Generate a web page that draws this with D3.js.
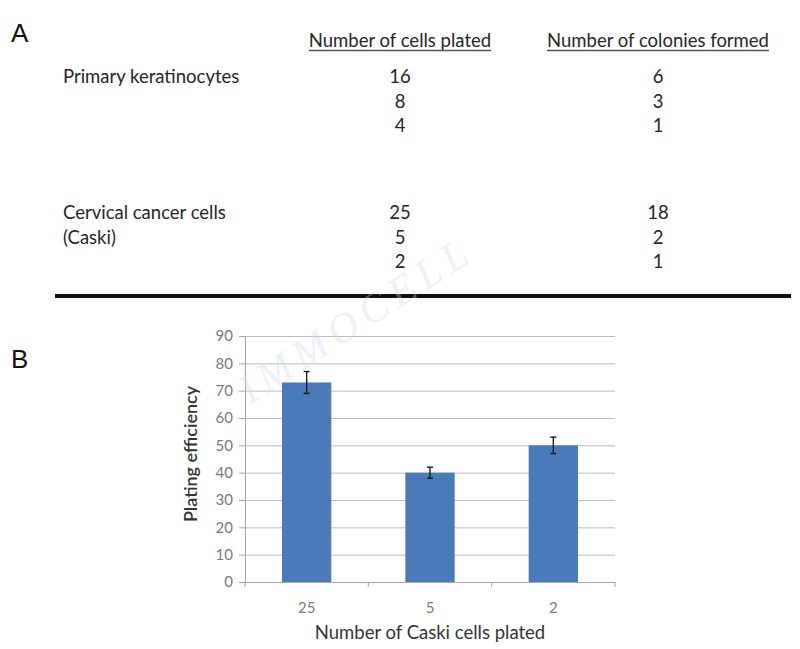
<!DOCTYPE html>
<html>
<head>
<meta charset="utf-8">
<script src="https://cdn.jsdelivr.net/npm/d3@7"></script>
<style>
  body { margin: 0; background: #fff; }
  svg { display: block; font-family: Lato, "Open Sans", sans-serif; }
</style>
</head>
<body>
<svg id="fig" width="800" height="649"></svg>
<script>
// Panel A table data
const tableHeaders = ['Number of cells plated', 'Number of colonies formed'];
const keratinocyteLabel = ['Primary keratinocytes'];
const keratinocytePlated = [16, 8, 4];
const keratinocyteColonies = [6, 3, 1];
const caskiLabel = ['Cervical cancer cells', '(Caski)'];
const caskiPlated = [25, 5, 2];
const caskiColonies = [18, 2, 1];

// Panel B chart data
const categories = ['25', '5', '2'];
const efficiency = [73, 40, 50];
const errors = [4, 2, 3];
const yTicks = [0, 10, 20, 30, 40, 50, 60, 70, 80, 90];

const svg = d3.select('#fig');
svg.append('rect').attr('width', 800).attr('height', 649).attr('fill', '#fff');

// Panel letters
svg.append('text').attr('x', 11).attr('y', 42)
    .style('font-family', 'Liberation Sans, Arial, sans-serif')
    .style('font-size', '26px').style('fill', '#111').text('A');
svg.append('text').attr('x', 11).attr('y', 368)
    .style('font-family', 'Liberation Sans, Arial, sans-serif')
    .style('font-size', '26px').style('fill', '#111').text('B');

// ---- Panel A: table ----
const colX = [400, 658];
const textColor = '#262626';
const tableFont = '18.5px';

tableHeaders.forEach((h, i) => {
    const t = svg.append('text')
        .attr('x', colX[i]).attr('y', 47)
        .attr('text-anchor', 'middle')
        .style('font-size', tableFont)
        .style('fill', textColor)
        .text(h);
    const bb = t.node().getBBox();
    svg.append('line')
        .attr('x1', bb.x).attr('x2', bb.x + bb.width)
        .attr('y1', 50.5).attr('y2', 50.5)
        .style('stroke', '#555').style('stroke-width', 1.3);
});

function drawGroup(labels, plated, colonies, y0) {
    const rowY = d3.scaleLinear().domain([0, 1]).range([y0, y0 + 24.5]);
    labels.forEach((l, i) => {
        svg.append('text').attr('x', 63).attr('y', rowY(i))
            .style('font-size', tableFont).style('fill', textColor).text(l);
    });
    plated.forEach((v, i) => {
        svg.append('text').attr('x', colX[0]).attr('y', rowY(i))
            .attr('text-anchor', 'middle')
            .style('font-size', tableFont).style('fill', textColor).text(v);
    });
    colonies.forEach((v, i) => {
        svg.append('text').attr('x', colX[1]).attr('y', rowY(i))
            .attr('text-anchor', 'middle')
            .style('font-size', tableFont).style('fill', textColor).text(v);
    });
}
drawGroup(keratinocyteLabel, keratinocytePlated, keratinocyteColonies, 83);
drawGroup(caskiLabel, caskiPlated, caskiColonies, 219);

// Divider
svg.append('line')
    .attr('x1', 55).attr('x2', 791).attr('y1', 296).attr('y2', 296)
    .style('stroke', '#111').style('stroke-width', 4);

// ---- Panel B: bar chart ----
const plotLeft = 245, plotRight = 615, plotTop = 336, plotBottom = 582;

const x = d3.scaleBand()
    .domain(categories)
    .range([plotLeft, plotRight])
    .paddingInner(0.6)
    .paddingOuter(0.3);

const y = d3.scaleLinear()
    .domain([0, 90])
    .range([plotBottom, plotTop]);

const chart = svg.append('g');

// Gridlines
chart.append('g')
    .attr('transform', `translate(${plotLeft},0)`)
    .call(d3.axisLeft(y).tickValues(yTicks).tickSize(-(plotRight - plotLeft)).tickFormat(''))
    .call(g => g.select('.domain').remove())
    .call(g => g.selectAll('.tick line').style('stroke', '#bdbdbd').style('stroke-width', 1));

// Y axis
chart.append('g')
    .attr('transform', `translate(${plotLeft},0)`)
    .call(d3.axisLeft(y).tickValues(yTicks).tickSize(6).tickPadding(6))
    .call(g => g.select('.domain').style('stroke', '#a6a6a6'))
    .call(g => g.selectAll('.tick line').style('stroke', '#a6a6a6'))
    .call(g => g.selectAll('.tick text')
        .style('font-family', 'Lato, sans-serif')
        .style('font-size', '15px').style('fill', '#7a7a7a'));

// Bars
chart.selectAll('rect.bar')
    .data(efficiency)
    .join('rect')
    .attr('class', 'bar')
    .attr('x', (d, i) => x(categories[i]))
    .attr('y', d => y(d))
    .attr('width', x.bandwidth())
    .attr('height', d => y(0) - y(d))
    .style('fill', '#4a7ab7');

// Error bars
const errG = chart.selectAll('g.err')
    .data(efficiency)
    .join('g')
    .attr('class', 'err')
    .attr('transform', (d, i) => `translate(${x(categories[i]) + x.bandwidth() / 2},0)`);
errG.append('line')
    .attr('y1', (d, i) => y(d + errors[i]))
    .attr('y2', (d, i) => y(d - errors[i]))
    .style('stroke', '#1a1a1a').style('stroke-width', 1.4);
errG.append('line')
    .attr('x1', -3).attr('x2', 3)
    .attr('y1', (d, i) => y(d + errors[i])).attr('y2', (d, i) => y(d + errors[i]))
    .style('stroke', '#1a1a1a').style('stroke-width', 1.4);
errG.append('line')
    .attr('x1', -3).attr('x2', 3)
    .attr('y1', (d, i) => y(d - errors[i])).attr('y2', (d, i) => y(d - errors[i]))
    .style('stroke', '#1a1a1a').style('stroke-width', 1.4);

// X axis with ticks at category boundaries
const xAxisG = chart.append('g')
    .attr('transform', `translate(0,${plotBottom})`)
    .call(d3.axisBottom(x).tickSize(0).tickPadding(20))
    .call(g => g.select('.domain').style('stroke', '#a6a6a6'))
    .call(g => g.selectAll('.tick text')
        .style('font-family', 'Lato, sans-serif')
        .style('font-size', '15px').style('fill', '#7a7a7a'));
const boundaries = d3.range(categories.length + 1).map(i => plotLeft + i * (plotRight - plotLeft) / categories.length);
xAxisG.selectAll('line.bound')
    .data(boundaries)
    .join('line')
    .attr('class', 'bound')
    .attr('x1', d => d).attr('x2', d => d)
    .attr('y1', 0).attr('y2', 5)
    .style('stroke', '#a6a6a6');

// Axis titles
svg.append('text')
    .attr('transform', `translate(197,${(plotTop + plotBottom) / 2 - 5}) rotate(-90)`)
    .attr('text-anchor', 'middle')
    .style('font-size', '18px').style('font-weight', '600').style('fill', '#333')
    .text('Plating efficiency');
svg.append('text')
    .attr('x', 430).attr('y', 639)
    .attr('text-anchor', 'middle')
    .style('font-size', '18.5px').style('fill', '#333')
    .text('Number of Caski cells plated');

// Faint watermark
svg.append('text')
    .attr('transform', 'translate(250,405) rotate(-33)')
    .style('font-family', 'Liberation Serif, serif')
    .style('font-style', 'italic')
    .style('font-size', '42px')
    .style('letter-spacing', '7px')
    .style('fill', '#c9daec')
    .style('opacity', 0.35)
    .text('IMMOCELL');
</script>
</body>
</html>
